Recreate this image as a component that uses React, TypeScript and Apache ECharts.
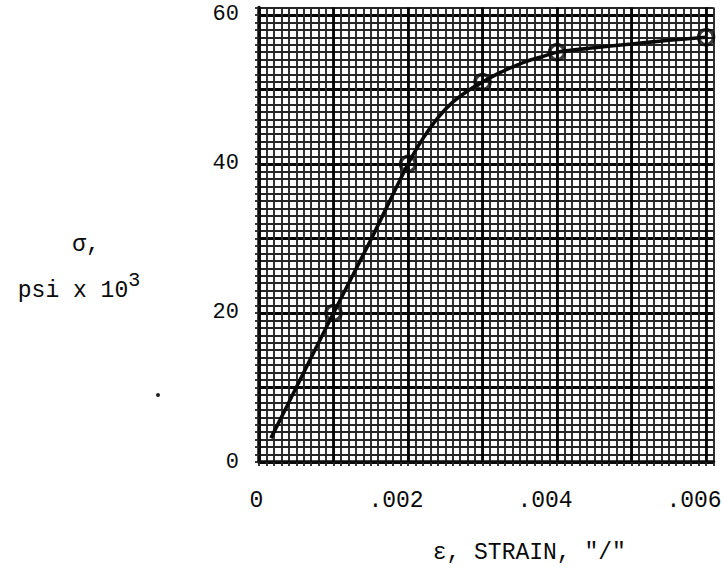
import React, { useEffect, useRef } from "react";
import * as echarts from "echarts";

// Measured points (circle markers)
const markerStrain = [0.001, 0.002, 0.003, 0.004, 0.006];
const markerStress = [20, 40, 51, 55, 57];

// Points
const curveStrain = [0.00016, 0.0005, 0.001, 0.0015, 0.002, 0.0022, 0.0024, 0.0026, 0.0028, 0.003, 0.0032, 0.0034, 0.0036, 0.0038, 0.004, 0.0045, 0.005, 0.0055, 0.006];
const curveStress = [3.2, 10, 20, 29.8, 40, 43.4, 46.2, 48.3, 49.8, 51, 52.1, 53, 53.8, 54.4, 55, 55.6, 56.1, 56.6, 57];

// Tick labels
const xLabelValues = [0, 0.002, 0.004, 0.006];
const xLabelTexts = ["0", ".002", ".004", ".006"];
const yLabelValues = [0, 20, 40, 60];
const yLabelTexts = ["0", "20", "40", "60"];

const FONT = "'Liberation Mono', 'Courier New', monospace";
const INK = "#0a0a0a";

export default function App() {
  const ref = useRef<HTMLDivElement>(null);

  useEffect(() => {
    if (!ref.current) return;
    const chart = echarts.init(ref.current, null, { renderer: "svg" });

    const minorLine = { show: true, lineStyle: { color: "#262626", width: 1.9 } };
    const heavyLine = { show: true, showMaxLine: false, lineStyle: { color: "#050505", width: 2.8 } };

    const xFmt = (v: number) => {
      const i = xLabelValues.findIndex((t) => Math.abs(t - v) < 1e-9);
      if (i < 0) return "";
      return i === 0 ? "{z|" + xLabelTexts[i] + "}" : "{d|" + xLabelTexts[i] + "}";
    };
    const yFmt = (v: number) => {
      const i = yLabelValues.findIndex((t) => Math.abs(t - v) < 1e-9);
      return i < 0 ? "" : yLabelTexts[i];
    };

    chart.setOption({
      animation: false,
      backgroundColor: "#fff",
      grid: { left: 259, right: 11.5, top: 7.5, bottom: 117, containLabel: false, outerBoundsMode: "none" },
      xAxis: [
        {
          type: "value",
          min: 0,
          max: 0.0061,
          interval: 0.0001,
          position: "bottom",
          axisLine: { show: true, onZero: false, lineStyle: { color: INK, width: 3.5 } },
          axisTick: { show: true, length: 4, lineStyle: { color: "#222", width: 1.8 } },
          axisLabel: { show: false },
          splitLine: minorLine,
          name: 'ε, STRAIN, "/"',
          nameLocation: "middle",
          nameGap: 79,
          nameTextStyle: { fontFamily: FONT, fontSize: 23, color: INK, padding: [0, 0, 0, 86] },
        },
        {
          type: "value",
          min: 0,
          max: 0.0061,
          interval: 0.001,
          position: "bottom",
          axisLine: { show: false },
          axisTick: { show: false },
          splitLine: heavyLine,
          axisLabel: {
            show: true,
            margin: 27,
            formatter: xFmt,
            fontFamily: FONT,
            fontSize: 23,
            color: INK,
            rich: {
              d: { fontFamily: FONT, fontSize: 23, color: INK, padding: [0, 24, 0, 0] },
              z: { fontFamily: FONT, fontSize: 23, color: INK, padding: [0, 5, 0, 0] },
            },
          },
        },
      ],
      yAxis: [
        {
          type: "value",
          min: 0,
          max: 61,
          interval: 1,
          position: "left",
          axisLine: { show: true, onZero: false, lineStyle: { color: INK, width: 3.5 } },
          axisTick: { show: true, length: 4, lineStyle: { color: "#222", width: 1.8 } },
          axisLabel: { show: false },
          splitLine: minorLine,
          name: "{a|σ,}\n{b|psi x 10}{s|3}",
          nameLocation: "middle",
          nameRotate: 0,
          nameGap: 180,
          nameTextStyle: {
            fontFamily: FONT,
            fontSize: 23,
            color: INK,
            align: "center",
            verticalAlign: "middle",
            padding: [66, 0, 0, 0],
            rich: {
              a: { fontFamily: FONT, fontSize: 23, color: INK, lineHeight: 46, padding: [0, 0, 0, 14] },
              b: { fontFamily: FONT, fontSize: 23, color: INK, lineHeight: 46 },
              s: { fontFamily: FONT, fontSize: 20, color: INK, padding: [0, 0, 20, 0] },
            },
          },
        },
        {
          type: "value",
          min: 0,
          max: 61,
          interval: 10,
          position: "left",
          axisLine: { show: false },
          axisTick: { show: false },
          splitLine: heavyLine,
          axisLabel: { show: true, margin: 20, formatter: yFmt, fontFamily: FONT, fontSize: 22, color: INK },
        },
      ],
      series: [
        {
          type: "line",
          xAxisIndex: 0,
          yAxisIndex: 0,
          data: curveStrain.map((x, i) => [x, curveStress[i]]),
          smooth: 0.3,
          showSymbol: false,
          lineStyle: { color: INK, width: 3.6 },
          z: 5,
        },
        {
          type: "scatter",
          xAxisIndex: 0,
          yAxisIndex: 0,
          data: markerStrain.map((x, i) => [x, markerStress[i]]),
          symbol: "circle",
          symbolSize: 15,
          itemStyle: { color: "rgba(255,255,255,0)", borderColor: INK, borderWidth: 3.5 },
          z: 6,
        },
      ],
      graphic: [
        { type: "circle", shape: { cx: 158, cy: 395, r: 2 }, style: { fill: "#222" } },
      ],
    });

    return () => chart.dispose();
  }, []);

  return (
    <div
      ref={ref}
      style={{ position: "fixed", left: 0, top: 0, width: 725, height: 579 }}
    />
  );
}
